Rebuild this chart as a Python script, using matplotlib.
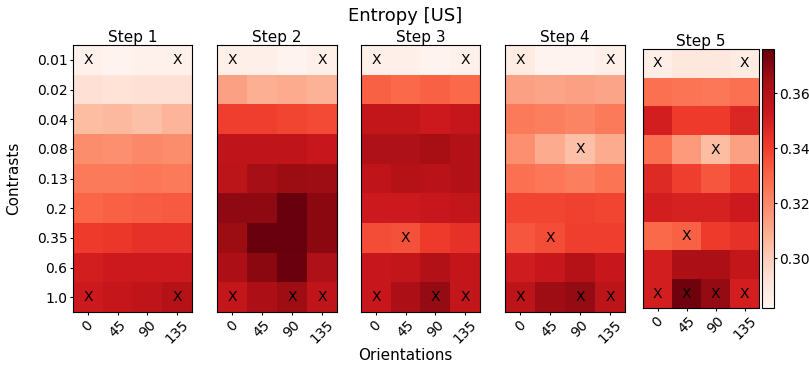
import matplotlib
matplotlib.use("Agg")
import matplotlib.pyplot as plt
import numpy as np

# axis categories
contrasts = ["0.01", "0.02", "0.04", "0.08", "0.13", "0.2", "0.35", "0.6", "1.0"]
orientations = ["0", "45", "90", "135"]

# entropy values per step (rows = contrasts, cols = orientations)
step1 = [
    [0.284, 0.283, 0.284, 0.284],
    [0.293, 0.292, 0.293, 0.293],
    [0.305, 0.306, 0.304, 0.307],
    [0.319, 0.318, 0.320, 0.319],
    [0.324, 0.324, 0.325, 0.324],
    [0.330, 0.331, 0.332, 0.333],
    [0.341, 0.342, 0.344, 0.344],
    [0.350, 0.352, 0.352, 0.352],
    [0.352, 0.354, 0.356, 0.359],
]
step2 = [
    [0.285, 0.285, 0.283, 0.285],
    [0.313, 0.309, 0.310, 0.308],
    [0.340, 0.340, 0.338, 0.337],
    [0.356, 0.356, 0.356, 0.353],
    [0.357, 0.364, 0.366, 0.365],
    [0.368, 0.368, 0.376, 0.369],
    [0.366, 0.376, 0.376, 0.369],
    [0.362, 0.369, 0.375, 0.361],
    [0.355, 0.362, 0.365, 0.356],
]
step3 = [
    [0.285, 0.285, 0.283, 0.284],
    [0.331, 0.329, 0.331, 0.329],
    [0.355, 0.355, 0.352, 0.354],
    [0.361, 0.361, 0.363, 0.360],
    [0.356, 0.359, 0.358, 0.360],
    [0.352, 0.352, 0.353, 0.355],
    [0.336, 0.335, 0.341, 0.344],
    [0.353, 0.355, 0.360, 0.355],
    [0.353, 0.362, 0.367, 0.355],
]
step4 = [
    [0.287, 0.283, 0.283, 0.285],
    [0.313, 0.312, 0.313, 0.312],
    [0.324, 0.323, 0.321, 0.324],
    [0.318, 0.310, 0.304, 0.310],
    [0.327, 0.325, 0.323, 0.326],
    [0.338, 0.338, 0.339, 0.338],
    [0.334, 0.336, 0.340, 0.340],
    [0.351, 0.353, 0.359, 0.353],
    [0.357, 0.365, 0.367, 0.357],
]
step5 = [
    [0.286, 0.289, 0.290, 0.287],
    [0.327, 0.326, 0.325, 0.327],
    [0.350, 0.341, 0.341, 0.347],
    [0.327, 0.315, 0.305, 0.313],
    [0.346, 0.340, 0.334, 0.340],
    [0.350, 0.349, 0.349, 0.352],
    [0.329, 0.331, 0.341, 0.344],
    [0.350, 0.362, 0.362, 0.355],
    [0.350, 0.374, 0.367, 0.350],
]
steps = [step1, step2, step3, step4, step5]

# cells marked with an X: (contrast index, orientation index)
marks = [
    [(0, 0), (0, 3), (8, 0), (8, 3)],
    [(0, 0), (0, 3), (8, 0), (8, 2), (8, 3)],
    [(0, 0), (0, 3), (6, 1), (8, 0), (8, 2), (8, 3)],
    [(0, 0), (0, 3), (3, 2), (6, 1), (8, 0), (8, 2), (8, 3)],
    [(0, 0), (0, 3), (3, 2), (6, 1), (8, 0), (8, 1), (8, 2), (8, 3)],
]

vmin, vmax = 0.282, 0.376

fig = plt.figure(figsize=(8.09, 3.68), dpi=100)
W, H = 809, 368

# panel boxes in pixels: left, right, top, bottom
boxes = [
    (73, 192, 45, 312),
    (217, 337, 45, 312),
    (361, 480, 45, 312),
    (505, 625, 45, 312),
    (643, 759, 49, 308),
]

for i, (data, box) in enumerate(zip(steps, boxes)):
    l, r, t, b = box
    ax = fig.add_axes([l / W, 1 - b / H, (r - l) / W, (b - t) / H])
    im = ax.imshow(np.array(data), cmap="Reds", vmin=vmin, vmax=vmax, aspect="auto")
    for (ri, ci) in marks[i]:
        ax.text(ci, ri, "X", ha="center", va="center", fontsize=10, color="black")
    ax.set_xticks(range(len(orientations)))
    ax.set_xticklabels(orientations, rotation=45, fontsize=10)
    ax.set_yticks(range(len(contrasts)))
    ax.tick_params(length=2.5, pad=1.5)
    if i == 0:
        ax.set_yticklabels(contrasts, fontsize=10)
    else:
        ax.set_yticklabels([])
        ax.tick_params(axis="y", length=0)
    ax.set_title(f"Step {i + 1}", fontsize=11, pad=2)

cax = fig.add_axes([762 / W, 1 - 308 / H, 12 / W, (308 - 49) / H])
cb = fig.colorbar(im, cax=cax)
cb.set_ticks([0.30, 0.32, 0.34, 0.36])
cb.ax.tick_params(labelsize=10, length=2.5, pad=1.5)

fig.text(405 / W, 1 - 16 / H, "Entropy [US]", ha="center", va="center", fontsize=13)
fig.text(405 / W, 1 - 355 / H, "Orientations", ha="center", va="center", fontsize=11)
fig.text(14 / W, 1 - 178 / H, "Contrasts", ha="center", va="center", rotation=90, fontsize=11)

fig.savefig("out.png", dpi=100)
